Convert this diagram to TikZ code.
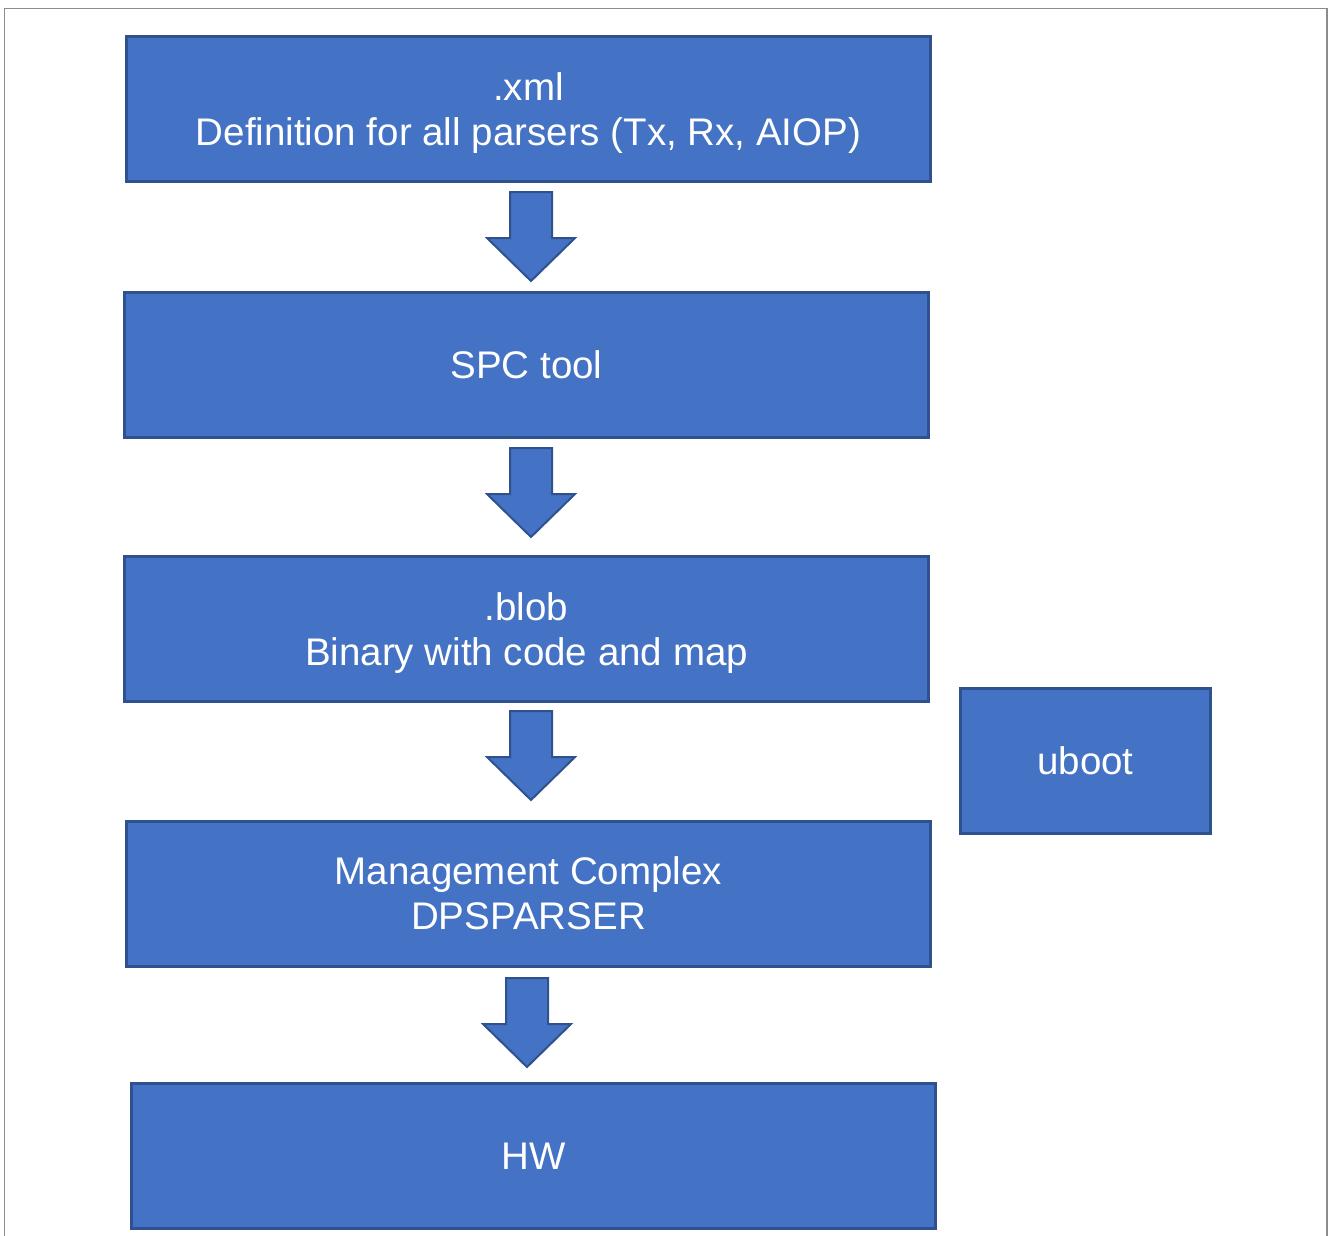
\documentclass[tikz,border=0pt]{standalone}
\usepackage{fontspec}
\setmainfont{Liberation Sans}
\usetikzlibrary{calc}
\definecolor{boxfill}{HTML}{4472C4}
\definecolor{boxline}{HTML}{2F528F}
\definecolor{framegray}{HTML}{8C8C8C}
\newcommand\blockdown[1]{%
  \draw[barrow] ($(#1)+(-21,0)$) -- ($(#1)+(21,0)$) -- ($(#1)+(21,46)$) -- ($(#1)+(44,46)$)
    -- ($(#1)+(0,89)$) -- ($(#1)+(-44,46)$) -- ($(#1)+(-21,46)$) -- cycle;}
\begin{document}
\begin{tikzpicture}[x=1pt,y=-1pt,
  box/.style={draw=boxline, fill=boxfill, line width=3pt, minimum width=804pt,
    minimum height=145pt, text=white, font=\fontsize{38.5}{45}\selectfont,
    align=center, inner sep=0pt, anchor=center},
  lowtext/.style={text height=81pt},
  barrow/.style={draw=boxline, fill=boxfill, line width=2pt, line join=miter},
  frame/.style={draw=framegray, line width=1.2pt}]
\useasboundingbox (0,0) rectangle (1328,1235);
\draw[frame] (4.5,1240) -- (4.5,8.5) -- (1327,8.5) -- (1327,1240);

\node[box, lowtext] (xml) at (528.5,109) {.xml\\Definition for all parsers (Tx, Rx, AIOP)};
\node[box] (spc) at (526.5,365) {SPC tool};
\node[box, lowtext] (blob) at (526.5,629) {.blob\\Binary with code and map};
\node[box] (mc) at (528.5,893.5) {Management Complex\\DPSPARSER};
\node[box] (hw) at (533.5,1156) {HW};
\node[box, minimum width=250pt] (uboot) at (1085.5,761) {uboot};

\coordinate (a1) at (531,192);
\coordinate (a2) at (531,448);
\coordinate (a3) at (531,711);
\coordinate (a4) at (527,978);
\blockdown{a1}
\blockdown{a2}
\blockdown{a3}
\blockdown{a4}
\end{tikzpicture}
\end{document}
